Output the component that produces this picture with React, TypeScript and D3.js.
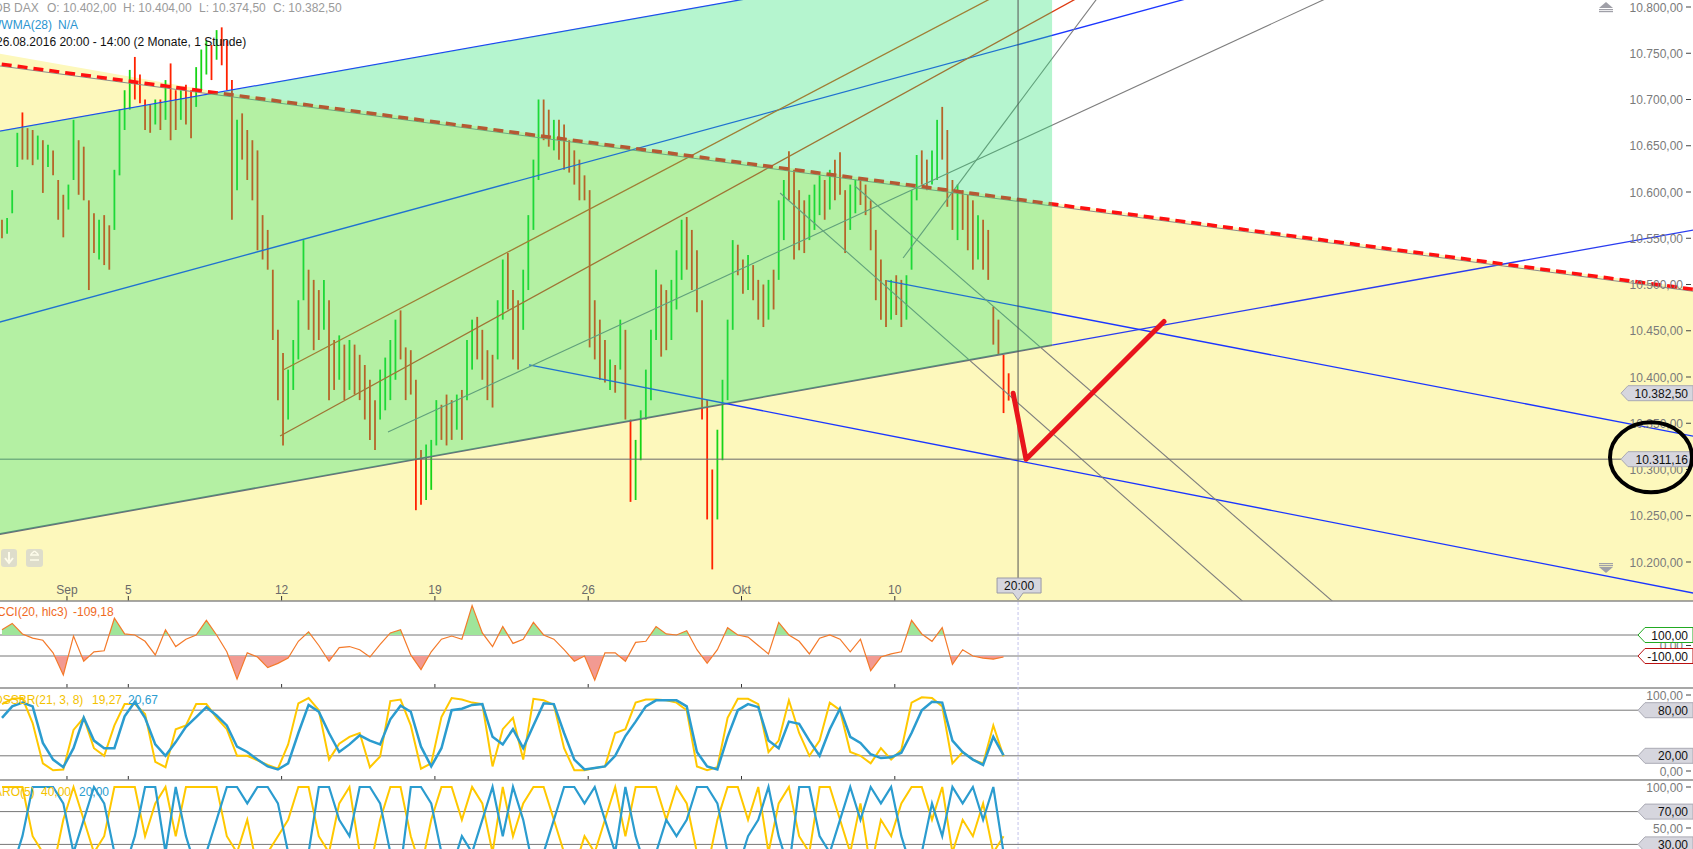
import React from "react";
import * as d3 from "d3";

const W = 1693;
const H = 849;

// ---- time axis (trading-day index, Mon 5 Sep 2016 = 0) ----
const dayTicks = [-2, 0, 5, 10, 15, 20, 25];
const dayTickLabels = ["Sep", "5", "12", "19", "26", "Okt", "10"];
const CURSOR_T = 29.02;
const FILL_END_T = 30.13;

// ---- price bars (6 per trading day) ----
const BAR_T0 = -4.12;
const BARS_PER_DAY = 6;
const barHigh = [
  10570, 10572, 10602, 10664, 10686, 10669, 10667, 10661, 10656, 10651,
  10645, 10613, 10597, 10608, 10678, 10656, 10649, 10591, 10577, 10570,
  10575, 10564, 10624, 10689, 10710, 10732, 10746, 10727, 10700, 10694,
  10700, 10700, 10721, 10739, 10710, 10710, 10716, 10710, 10735, 10754,
  10764, 10759, 10775, 10778, 10764, 10721, 10678, 10685, 10667, 10656,
  10645, 10575, 10559, 10516, 10451, 10426, 10408, 10440, 10483, 10548,
  10516, 10505, 10494, 10505, 10483, 10440, 10445, 10435, 10440, 10435,
  10424, 10413, 10397, 10375, 10408, 10421, 10440, 10462, 10472, 10432,
  10429, 10397, 10321, 10327, 10332, 10375, 10370, 10381, 10375, 10381,
  10386, 10440, 10462, 10465, 10451, 10429, 10424, 10483, 10527, 10534,
  10494, 10483, 10516, 10575, 10635, 10700, 10700, 10689, 10678, 10678,
  10673, 10656, 10645, 10635, 10618, 10602, 10483, 10462, 10440, 10419,
  10413, 10462, 10451, 10354, 10332, 10364, 10408, 10451, 10516, 10500,
  10494, 10505, 10537, 10570, 10573, 10559, 10537, 10483, 10375, 10300,
  10343, 10397, 10462, 10548, 10543, 10527, 10532, 10521, 10505, 10500,
  10505, 10516, 10591, 10613, 10644, 10624, 10602, 10591, 10597, 10608,
  10618, 10613, 10624, 10635, 10643, 10602, 10608, 10613, 10615, 10608,
  10591, 10559, 10527, 10505, 10505, 10510, 10505, 10510, 10602, 10640,
  10645, 10635, 10645, 10678, 10692, 10667, 10613, 10608, 10602, 10597,
  10591, 10575, 10570, 10559, 10476, 10462, 10424, 10404,
];
const barLow = [
  10550, 10555, 10577, 10627, 10635, 10635, 10629, 10635, 10599, 10627,
  10618, 10570, 10551, 10581, 10613, 10597, 10591, 10494, 10534, 10527,
  10521, 10516, 10559, 10618, 10667, 10689, 10700, 10696, 10667, 10664,
  10673, 10667, 10678, 10656, 10667, 10678, 10673, 10658, 10692, 10710,
  10727, 10721, 10743, 10737, 10710, 10570, 10602, 10635, 10613, 10591,
  10537, 10527, 10516, 10440, 10375, 10326, 10354, 10386, 10419, 10483,
  10451, 10429, 10440, 10451, 10375, 10386, 10397, 10375, 10386, 10381,
  10375, 10354, 10332, 10321, 10354, 10364, 10375, 10397, 10419, 10375,
  10381, 10256, 10262, 10267, 10278, 10326, 10332, 10326, 10332, 10343,
  10332, 10375, 10408, 10419, 10397, 10375, 10367, 10419, 10462, 10473,
  10419, 10408, 10451, 10494, 10559, 10613, 10656, 10649, 10645, 10635,
  10624, 10621, 10608, 10591, 10591, 10432, 10419, 10397, 10394, 10386,
  10383, 10408, 10354, 10265, 10267, 10310, 10354, 10375, 10440, 10422,
  10429, 10440, 10473, 10505, 10516, 10494, 10470, 10354, 10246, 10192,
  10246, 10310, 10375, 10451, 10510, 10490, 10494, 10483, 10462, 10454,
  10462, 10473, 10505, 10548, 10591, 10527, 10537, 10534, 10548, 10559,
  10575, 10570, 10581, 10591, 10597, 10534, 10559, 10577, 10586, 10575,
  10537, 10483, 10462, 10454, 10462, 10467, 10454, 10462, 10516, 10591,
  10608, 10602, 10608, 10613, 10635, 10584, 10559, 10548, 10559, 10537,
  10516, 10527, 10516, 10505, 10435, 10424, 10361, 10374.5,
];
const barUp = [
  0, 1, 1, 1, 0, 0, 0, 1, 0, 1, 0, 0, 0, 1, 1, 0, 0, 0, 0, 1,
  0, 0, 1, 1, 1, 1, 0, 0, 0, 0, 1, 0, 1, 0, 0, 1, 0, 0, 1, 1,
  1, 0, 1, 0, 0, 0, 1, 0, 0, 0, 0, 0, 0, 0, 0, 0, 1, 1, 1, 1,
  0, 0, 0, 1, 0, 0, 1, 0, 1, 0, 0, 0, 0, 0, 1, 1, 1, 1, 0, 0,
  0, 0, 0, 1, 1, 1, 0, 0, 0, 1, 0, 1, 1, 0, 0, 0, 0, 1, 1, 0,
  0, 0, 1, 1, 1, 1, 0, 0, 1, 0, 0, 0, 0, 0, 0, 0, 0, 0, 0, 1,
  0, 1, 0, 0, 1, 1, 1, 1, 1, 0, 0, 1, 1, 1, 0, 0, 0, 0, 0, 0,
  1, 1, 1, 1, 0, 0, 1, 0, 0, 0, 1, 0, 1, 1, 0, 0, 0, 0, 1, 1,
  1, 0, 1, 0, 0, 0, 1, 1, 0, 0, 0, 0, 0, 0, 1, 0, 0, 1, 1, 1,
  0, 0, 1, 1, 0, 0, 0, 1, 0, 0, 0, 1, 0, 0, 0, 0, 0, 0,
];

// ---- indicators (one value every 2 bars) ----
const IND_STEP = 2;
const cci = [
  150, 210, 110, 70, 50, -70, -280, 90, -150, -60,
  -50, 260, 110, 100, 40, -90, 150, -10, 60, 100,
  240, 100, -60, -320, -70, -110, -210, -170, -120, 40,
  130, 0, -150, -20, -10, -40, -110, 10, 120, 150,
  -90, -230, -60, 60, 90, 60, 380, 120, -10, 180,
  20, 60, 220, 100, 60, -40, -150, -100, -330, -70,
  -70, -150, 30, 40, 180, 110, 100, 140, -40, -170,
  -40, 170, 100, 80, 0, -80, 220, 100, 40, -80,
  70, 100, 60, -60, 60, -240, -110, -80, -60, 240,
  110, 40, 170, -180, -40, -100, -120, -130, -109.18,
];
const dssFast = [
  88, 95, 96, 63, 10, 1, 2, 54, 70, 30,
  20, 60, 88, 88, 75, 12, 5, 55, 60, 88,
  88, 70, 55, 20, 20, 14, 8, 3, 35, 89,
  96, 80, 15, 36, 45, 50, 5, 19, 92, 94,
  60, 3, 10, 71, 96, 94, 90, 88, 6, 55,
  70, 15, 95, 93, 87, 30, 1, 1, 4, 6,
  50, 55, 90, 94, 94, 93, 90, 80, 6, 1,
  5, 70, 95, 95, 88, 25, 40, 93, 50, 20,
  40, 90, 80, 25, 20, 10, 30, 15, 28, 90,
  97, 96, 85, 10, 25, 15, 10, 60, 19.27,
];
const dssSlow = [
  70, 85, 90, 85, 37, 15, 5, 30, 70, 40,
  30, 30, 72, 91, 70, 35, 20, 38, 58, 71,
  84, 73, 60, 32, 25, 15, 6, 2, 10, 50,
  87, 78, 50, 25, 35, 47, 40, 35, 68, 86,
  78, 32, 6, 30, 80, 82, 87, 88, 45, 35,
  55, 30, 60, 89, 88, 50, 15, 2, 4, 6,
  20, 46, 65, 85, 93, 93, 93, 85, 25, 6,
  2, 45, 80, 88, 84, 40, 30, 65, 62, 40,
  20, 55, 82, 45, 37, 22, 17, 18, 24, 50,
  80, 91, 90, 40, 25, 15, 8, 45, 20.67,
];
const aroonUp = [
  100, 100, 100, 40, 20, 0, 60, 100, 60, 20,
  40, 100, 100, 100, 40, 80, 100, 40, 100, 100,
  100, 100, 40, 20, 60, 0, 20, 40, 60, 100,
  100, 40, 20, 80, 100, 20, 0, 60, 100, 100,
  40, 0, 60, 100, 100, 60, 100, 80, 20, 100,
  40, 80, 100, 100, 60, 20, 0, 40, 20, 60,
  100, 40, 100, 100, 100, 60, 100, 80, 20, 0,
  60, 100, 100, 60, 100, 20, 80, 100, 40, 20,
  100, 100, 60, 20, 80, 0, 60, 40, 80, 100,
  100, 60, 100, 20, 60, 40, 80, 20, 40,
];
const aroonDown = [
  20, 0, 40, 100, 100, 100, 80, 20, 60, 100,
  80, 20, 0, 40, 100, 100, 20, 100, 40, 0,
  20, 60, 100, 100, 80, 100, 100, 80, 20, 0,
  20, 100, 100, 60, 40, 100, 100, 80, 20, 0,
  100, 100, 80, 20, 0, 40, 20, 60, 100, 40,
  100, 60, 0, 20, 60, 100, 100, 80, 100, 60,
  20, 100, 40, 0, 20, 60, 40, 60, 100, 100,
  80, 20, 0, 40, 60, 100, 40, 0, 100, 100,
  40, 20, 60, 100, 60, 100, 80, 100, 40, 0,
  20, 80, 40, 100, 80, 100, 60, 100, 20,
];

// ---- price axis ----
const priceTicks = [10200, 10250, 10300, 10350, 10400, 10450, 10500, 10550, 10600, 10650, 10700, 10750, 10800];
const lastClose = 10382.5;
const targetPrice = 10311.16;

// ---- drawn trend lines: anchor points [day, price] ----
const resistanceLine = [[-4.185, 10738.4], [51.03, 10494.9]];
const zoneTopLeftEdge = [[-4.185, 10749.2], [2.86, 10707.0]];
const upperBlueLine = [[-4.185, 10665.9], [19.95, 10807.6]];
const middleBlueLine = [[-4.185, 10459.5], [34.37, 10807.6]];
const lowerSupportLine = [[-4.185, 10230.3], [44.87, 10522.2]];
const blueDownLine1 = [[13.07, 10413.0], [51.03, 10166.5]];
const blueDownLine2 = [[24.75, 10503.8], [51.03, 10336.2]];
const orangeUpper = [[5.05, 10407.6], [28.04, 10807.6]];
const orangeLower = [[4.95, 10336.2], [30.84, 10807.6]];
const grayMidLine = [[8.47, 10340.5], [38.97, 10807.6]];
const graySteepLine = [[25.27, 10528.6], [31.56, 10807.6]];
const grayDownA = [[21.26, 10598.9], [36.26, 10160.0]];
const grayDownB = [[23.7, 10606.5], [39.19, 10160.0]];
const forecastPath = [[28.86, 10382.5], [29.28, 10311.16], [33.78, 10460]];

const levelsCCI = [100, -100];
const levelsDSS = [80, 20];
const levelsAroon = [70, 30];

const FONT = "'Liberation Sans', Arial, Helvetica, sans-serif";

export default function App() {
  React.useEffect(() => {
    document.body.style.margin = "0";
  }, []);

  const x = d3.scaleLinear().domain([0, 25]).range([128.3, 128.3 + 25 * 30.66]);
  const y = d3.scaleLinear().domain([10200, 10800]).range([562, 7]);
  const yC = d3.scaleLinear().domain([-100, 100]).range([656, 635]);
  const yD = d3.scaleLinear().domain([0, 100]).range([771, 695]);
  const yA = d3.scaleLinear().domain([0, 100]).range([869, 787]);

  const barT = (i: number) => BAR_T0 + i / BARS_PER_DAY;
  const indX = (j: number) => x(BAR_T0 + (j * IND_STEP) / BARS_PER_DAY);

  const loc = d3.formatLocale({ decimal: ",", thousands: ".", grouping: [3], currency: ["", " €"], minus: "-" });
  const fmt = loc.format(",.2f");
  const fmt2 = loc.format(".2f");

  const ray = (pts: number[][], extendLeft: boolean, xEnd?: number) => {
    const x1 = x(pts[0][0]), y1 = y(pts[0][1]);
    const x2 = x(pts[1][0]), y2 = y(pts[1][1]);
    const k = (y2 - y1) / (x2 - x1);
    const xa = extendLeft ? -30 : x1;
    const xb = xEnd !== undefined ? xEnd : W + 30;
    return `M${xa},${y1 + k * (xa - x1)}L${xb},${y1 + k * (xb - x1)}`;
  };
  const rayFrom = (pts: number[][], xStart: number) => {
    const x1 = x(pts[0][0]), y1 = y(pts[0][1]);
    const x2 = x(pts[1][0]), y2 = y(pts[1][1]);
    const k = (y2 - y1) / (x2 - x1);
    const xb = W + 30;
    return `M${xStart},${y1 + k * (xStart - x1)}L${xb},${y1 + k * (xb - x1)}`;
  };
  const at = (pts: number[][], t: number) => {
    const k = (pts[1][1] - pts[0][1]) / (pts[1][0] - pts[0][0]);
    return pts[0][1] + k * (t - pts[0][0]);
  };

  const tL = x.invert(-30), tR = x.invert(W + 30);
  const tC = zoneTopLeftEdge[1][0];
  // yellow zone: below resistance line, widened by a wedge on the far left
  const yellowPoly = [
    [x(tL), y(at(zoneTopLeftEdge, tL))],
    [x(tC), y(at(resistanceLine, tC)) - 1],
    [x(tR), y(at(resistanceLine, tR)) - 1],
    [x(tR), 700],
    [x(tL), 700],
  ];
  // translucent channel fill between upper blue line and lower support line
  const fillPoly = [
    [x(tL), y(at(upperBlueLine, tL))],
    [x(FILL_END_T), y(at(upperBlueLine, FILL_END_T))],
    [x(FILL_END_T), y(at(lowerSupportLine, FILL_END_T))],
    [x(tL), y(at(lowerSupportLine, tL))],
  ];
  const poly = (p: number[][]) => "M" + p.map((q) => q.join(",")).join("L") + "Z";

  const lineGen = (ys: any, vals: number[]) =>
    d3.line<number>().x((_, j) => indX(j)).y((v) => ys(v))(vals) || "";
  const cciLine = lineGen(yC, cci);
  const cciUpArea = d3.area<number>().x((_, j) => indX(j)).y0(yC(100)).y1((v) => yC(v))(cci) || "";
  const cciDnArea = d3.area<number>().x((_, j) => indX(j)).y0(yC(-100)).y1((v) => yC(v))(cci) || "";

  const cursorX = x(CURSOR_T);
  const fillEndX = x(FILL_END_T);
  const fcPath = d3.line()(forecastPath.map(([t, p]) => [x(t), y(p)] as [number, number])) || "";

  const Tag = ({ xp, yp, text, fill, stroke }: any) => (
    <g>
      <path
        d={`M${xp},${yp}L${xp + 7},${yp - 7.5}L${W},${yp - 7.5}L${W},${yp + 7.5}L${xp + 7},${yp + 7.5}Z`}
        fill={fill}
        stroke={stroke}
        strokeWidth={1}
      />
      <text x={W - 5} y={yp + 4.5} textAnchor="end" fontSize={12} fill="#111">
        {text}
      </text>
    </g>
  );

  const axisLabel = (yy: number, text: string, key: string) => (
    <g key={key}>
      <text x={1683} y={yy + 4.5} textAnchor="end" fontSize={12} fill="#7a7a7a">
        {text}
      </text>
      <line x1={1686} x2={1691} y1={yy} y2={yy} stroke="#444" strokeWidth={1} />
    </g>
  );

  return (
    <svg
      width={W}
      height={H}
      style={{ display: "block", position: "absolute", left: 0, top: 0 }}
      fontFamily={FONT}
    >
      <defs>
        <clipPath id="clipMain">
          <rect x={0} y={0} width={W} height={601} />
        </clipPath>
        <clipPath id="clipCCI">
          <rect x={0} y={601} width={W} height={87} />
        </clipPath>
        <clipPath id="clipCCIup">
          <rect x={0} y={601} width={W} height={yC(100) - 601} />
        </clipPath>
        <clipPath id="clipCCIdn">
          <rect x={0} y={yC(-100)} width={W} height={688 - yC(-100)} />
        </clipPath>
        <clipPath id="clipDSS">
          <rect x={0} y={688} width={W} height={92} />
        </clipPath>
        <clipPath id="clipAroon">
          <rect x={0} y={780} width={W} height={69} />
        </clipPath>
      </defs>

      <rect x={0} y={0} width={W} height={H} fill="#ffffff" />

      {/* ===== main price panel ===== */}
      <g clipPath="url(#clipMain)">
        <path d={poly(yellowPoly)} fill="#fdf8bc" />

        {/* price bars */}
        {barHigh.map((h, i) => {
          const xx = x(barT(i));
          return (
            <line
              key={"b" + i}
              x1={xx}
              x2={xx}
              y1={y(h)}
              y2={y(barLow[i])}
              stroke={barUp[i] ? "#16d416" : "#ff2200"}
              strokeWidth={1.8}
            />
          );
        })}

        {/* drawing tools */}
        <path d={ray(middleBlueLine, true)} stroke="#1b36ff" strokeWidth={1.3} fill="none" />
        <path d={ray(upperBlueLine, true)} stroke="#1b36ff" strokeWidth={1.3} fill="none" />
        <path d={ray(lowerSupportLine, true, fillEndX)} stroke="#6a6a7a" strokeWidth={1.8} fill="none" />
        <path d={rayFrom(lowerSupportLine, fillEndX)} stroke="#2a3cf0" strokeWidth={1.3} fill="none" />
        <path d={ray(blueDownLine1, false)} stroke="#1b36ff" strokeWidth={1.3} fill="none" />
        <path d={ray(blueDownLine2, false)} stroke="#1b36ff" strokeWidth={1.3} fill="none" />
        <path d={ray(orangeUpper, false)} stroke="#de4a12" strokeWidth={1.3} fill="none" />
        <path d={ray(orangeLower, false)} stroke="#de3a12" strokeWidth={1.3} fill="none" />
        <path d={ray(grayMidLine, false)} stroke="#7e7e7e" strokeWidth={1.1} fill="none" />
        <path d={ray(graySteepLine, false)} stroke="#7e7e7e" strokeWidth={1.1} fill="none" />
        <path d={ray(grayDownA, false)} stroke="#7e7e7e" strokeWidth={1.1} fill="none" />
        <path d={ray(grayDownB, false)} stroke="#7e7e7e" strokeWidth={1.1} fill="none" />
        <line x1={0} x2={1621} y1={y(targetPrice)} y2={y(targetPrice)} stroke="#6a6a6a" strokeWidth={1} />
        <path d={ray(resistanceLine, true)} transform="translate(0,2)" stroke="#8a8a8a" strokeWidth={1} fill="none" />
        <path d={ray(resistanceLine, true)} stroke="#ff1010" strokeWidth={3.5} strokeDasharray="10 6" fill="none" />

        {/* translucent channel fill */}
        <path d={poly(fillPoly)} fill="#2ae276" fillOpacity={0.35} />

        {/* cursor */}
        <line x1={cursorX} x2={cursorX} y1={0} y2={580} stroke="#555" strokeWidth={1} />

        {/* forecast drawing */}
        <path d={fcPath} stroke="#e8141c" strokeWidth={5} fill="none" strokeLinejoin="round" strokeLinecap="round" />
      </g>

      {/* header */}
      <text x={-6} y={12} fontSize={12} fill="#9a9a9a">DB DAX</text>
      <text x={47} y={12} fontSize={12} fill="#9a9a9a">O: 10.402,00</text>
      <text x={123} y={12} fontSize={12} fill="#9a9a9a">H: 10.404,00</text>
      <text x={199} y={12} fontSize={12} fill="#9a9a9a">L: 10.374,50</text>
      <text x={273} y={12} fontSize={12} fill="#9a9a9a">C: 10.382,50</text>
      <text x={-10} y={29} fontSize={12} fill="#2b95d0">WWMA(28)</text>
      <text x={58} y={29} fontSize={12} fill="#2b95d0">N/A</text>
      <text x={-4} y={46} fontSize={12} fill="#111">26.08.2016 20:00 - 14:00 (2 Monate, 1 Stunde)</text>

      {/* price axis */}
      {priceTicks.map((p) => axisLabel(y(p), fmt(p), "p" + p))}
      <Tag xp={1621} yp={y(lastClose)} text={fmt(lastClose)} fill="#d6d6de" stroke="#aaaab4" />
      <Tag xp={1621} yp={y(targetPrice)} text={fmt(targetPrice)} fill="#d6d6de" stroke="#aaaab4" />
      <ellipse cx={1651} cy={y(targetPrice) - 2} rx={41} ry={35} fill="none" stroke="#000" strokeWidth={4} />

      {/* scroll icons */}
      <g fill="#a0a0a8">
        <path d="M1599,8L1606,2L1613,8Z" />
        <rect x={1599} y={9} width={14} height={1.2} />
        <rect x={1599} y={11} width={14} height={1.2} />
        <rect x={1599} y={563} width={14} height={1.2} />
        <rect x={1599} y={565} width={14} height={1.2} />
        <path d="M1599,567L1606,573L1613,567Z" />
      </g>
      <g opacity={0.7}>
        <rect x={1} y={549} width={16} height={18} rx={3} fill="#d2d2d2" />
        <rect x={26} y={549} width={17} height={18} rx={3} fill="#d2d2d2" />
        <path d="M9,552L9,561M5,558L9,563L13,558" stroke="#fff" strokeWidth={2} fill="none" />
        <path d="M30,555L39,555M30,560L39,560M34.5,551L31,554M34.5,551L38,554" stroke="#fff" strokeWidth={1.5} fill="none" />
      </g>

      {/* time axis */}
      {dayTicks.map((d, k) => (
        <g key={"t" + d}>
          <text x={x(d)} y={594} textAnchor="middle" fontSize={12} fill="#6a6a6a">
            {dayTickLabels[k]}
          </text>
          <line x1={x(d)} x2={x(d)} y1={596} y2={601} stroke="#333" />
          <line x1={x(d)} x2={x(d)} y1={684} y2={688} stroke="#333" />
          <line x1={x(d)} x2={x(d)} y1={776} y2={780} stroke="#333" />
        </g>
      ))}
      <path
        d={`M${cursorX - 21},578L${cursorX + 23},578L${cursorX + 23},593L${cursorX + 5},593L${cursorX},600L${cursorX - 5},593L${cursorX - 21},593Z`}
        fill="#d6d6de"
        stroke="#9a9aa6"
      />
      <text x={cursorX + 1} y={590} textAnchor="middle" fontSize={12} fill="#111">20:00</text>

      {/* panel separators */}
      {[601, 688, 780].map((yy) => (
        <line key={"s" + yy} x1={0} x2={W} y1={yy} y2={yy} stroke="#8a8a8a" strokeWidth={1.5} />
      ))}
      <line x1={cursorX} x2={cursorX} y1={602} y2={H} stroke="#c4c4ec" strokeWidth={1} strokeDasharray="3 2" />

      {/* ===== CCI ===== */}
      {levelsCCI.map((v) => (
        <line key={"lc" + v} x1={0} x2={1638} y1={yC(v)} y2={yC(v)} stroke="#777" strokeWidth={1} />
      ))}
      <g clipPath="url(#clipCCI)">
        <path d={cciUpArea} fill="#9fe59a" clipPath="url(#clipCCIup)" />
        <path d={cciDnArea} fill="#f29a92" clipPath="url(#clipCCIdn)" />
        <path d={cciLine} fill="none" stroke="#f47a2a" strokeWidth={1.2} />
      </g>
      <text x={-3} y={616} fontSize={12} fill="#f06a1e">CCI(20, hlc3)</text>
      <text x={73} y={616} fontSize={12} fill="#f06a1e">{fmt2(cci[cci.length - 1])}</text>
      {axisLabel(yC(0), fmt(0), "c0")}
      <Tag xp={1638} yp={yC(100)} text={fmt(100)} fill="#ffffff" stroke="#22aa22" />
      <Tag xp={1638} yp={yC(-100)} text={fmt(-100)} fill="#ffffff" stroke="#bb1111" />

      {/* ===== DSSBR ===== */}
      {levelsDSS.map((v) => (
        <line key={"ld" + v} x1={0} x2={1638} y1={yD(v)} y2={yD(v)} stroke="#777" strokeWidth={1} />
      ))}
      <g clipPath="url(#clipDSS)">
        <path d={lineGen(yD, dssFast)} fill="none" stroke="#ffc800" strokeWidth={2} />
        <path d={lineGen(yD, dssSlow)} fill="none" stroke="#2b9ccf" strokeWidth={2.5} />
      </g>
      <text x={-6} y={704} fontSize={12} fill="#f3c200">DSSBR(21, 3, 8)</text>
      <text x={92} y={704} fontSize={12} fill="#f3c200">{fmt2(dssFast[dssFast.length - 1])}</text>
      <text x={128} y={704} fontSize={12} fill="#2b9ccf">{fmt2(dssSlow[dssSlow.length - 1])}</text>
      {axisLabel(yD(100), fmt(100), "d100")}
      {axisLabel(yD(0), fmt(0), "d0")}
      <Tag xp={1638} yp={yD(80)} text={fmt(80)} fill="#d6d6de" stroke="#aaaab4" />
      <Tag xp={1638} yp={yD(20)} text={fmt(20)} fill="#d6d6de" stroke="#aaaab4" />

      {/* ===== Aroon ===== */}
      {levelsAroon.map((v) => (
        <line key={"la" + v} x1={0} x2={1638} y1={yA(v)} y2={yA(v)} stroke="#777" strokeWidth={1} />
      ))}
      <g clipPath="url(#clipAroon)">
        <path d={lineGen(yA, aroonUp)} fill="none" stroke="#ffc800" strokeWidth={2} />
        <path d={lineGen(yA, aroonDown)} fill="none" stroke="#2b9ccf" strokeWidth={2.2} />
      </g>
      <text x={-6} y={796} fontSize={12} fill="#f3c200">ARO(5)</text>
      <text x={41} y={796} fontSize={12} fill="#f3c200">{fmt2(aroonUp[aroonUp.length - 1])}</text>
      <text x={79} y={796} fontSize={12} fill="#2b9ccf">{fmt2(aroonDown[aroonDown.length - 1])}</text>
      {axisLabel(yA(100), fmt(100), "a100")}
      {axisLabel(yA(50), fmt(50), "a50")}
      <Tag xp={1638} yp={yA(70)} text={fmt(70)} fill="#d6d6de" stroke="#aaaab4" />
      <Tag xp={1638} yp={yA(30)} text={fmt(30)} fill="#d6d6de" stroke="#aaaab4" />
    </svg>
  );
}
